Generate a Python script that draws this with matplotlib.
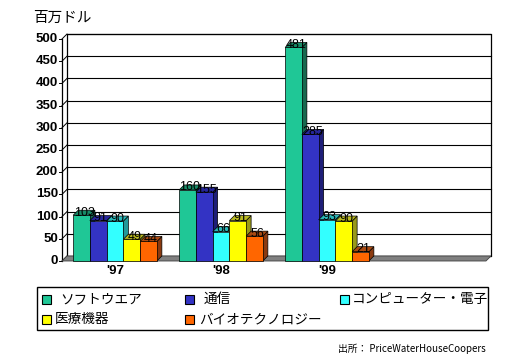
import matplotlib
matplotlib.use("Agg")
import matplotlib.pyplot as plt
from matplotlib.patches import Polygon, Rectangle

plt.rcParams['font.family'] = ['Noto Sans CJK JP', 'DejaVu Sans']

categories = ["'97", "'98", "'99", ""]
series_names = ["ソフトウエア", "通信", "コンピューター・電子", "医療機器", "バイオテクノロジー"]
software = [103, 160, 481]
telecom = [91, 155, 285]
computer = [90, 66, 93]
medical = [49, 91, 90]
biotech = [44, 56, 21]
series = [software, telecom, computer, medical, biotech]
yticks = list(range(0, 501, 50))

front_colors = ["#1fc796", "#3333c4", "#33ffff", "#ffff00", "#ff6600"]
side_colors = ["#17694f", "#1e1e78", "#229999", "#999919", "#8b3a10"]
top_colors = ["#178a66", "#26269a", "#2bb8b8", "#b8b820", "#a84a12"]

W, H = 530, 360
fig = plt.figure(figsize=(W / 100, H / 100), dpi=100)
px_l, px_r, px_t, px_b = 62, 486, 39, 261
ax = fig.add_axes([px_l / W, 1 - px_b / H, (px_r - px_l) / W, (px_b - px_t) / H])
x0, x1 = -0.5, 3.5
ax.set_xlim(x0, x1)
ax.set_ylim(0, 500)
ax.axis('off')

ppx = (px_r - px_l) / (x1 - x0)
ppy = (px_b - px_t) / 500
dx = 5 / ppx
dy = 5 / ppy

# back wall
ax.add_patch(Rectangle((x0 + dx, dy), x1 - x0, 500, facecolor='white',
                       edgecolor='black', lw=0.9, zorder=1, clip_on=False))
for yv in yticks:
    ax.plot([x0 + dx, x1 + dx], [yv + dy, yv + dy], color='black', lw=0.8,
            zorder=1.1, clip_on=False)
    ax.plot([x0, x0 + dx], [yv, yv + dy], color='black', lw=0.7, zorder=1.1, clip_on=False)
    ax.plot([x0 - 2.5 / ppx, x0], [yv, yv], color='black', lw=0.7, zorder=1.1, clip_on=False)
    ax.text(x0 - 4 / ppx, yv, str(yv), ha='right', va='center', fontsize=9.5,
            fontweight='bold', family=['Liberation Sans', 'DejaVu Sans'])
ax.plot([x0, x0], [0, 500], color='black', lw=0.9, zorder=1.1, clip_on=False)
# floor
ax.add_patch(Polygon([(x0, 0), (x1, 0), (x1 + dx, dy), (x0 + dx, dy)], closed=True,
                     facecolor='#808080', edgecolor='#404040', lw=0.6, zorder=1.2,
                     clip_on=False))

w = 0.158
for j, vals in enumerate(series):
    for i, h in enumerate(vals):
        left = i - 2.5 * w + j * w
        z = 2 + j * 0.1
        ax.add_patch(Polygon([(left + w, 0), (left + w + dx, dy), (left + w + dx, h + dy), (left + w, h)],
                             closed=True, facecolor=side_colors[j], edgecolor='black', lw=0.5,
                             zorder=z, clip_on=False))
        ax.add_patch(Polygon([(left, h), (left + dx, h + dy), (left + w + dx, h + dy), (left + w, h)],
                             closed=True, facecolor=top_colors[j], edgecolor='black', lw=0.5,
                             zorder=z, clip_on=False))
        ax.add_patch(Rectangle((left, 0), w, h, facecolor=front_colors[j], edgecolor='black',
                               lw=0.5, zorder=z + 0.01, clip_on=False))
for j, vals in enumerate(series):
    for i, h in enumerate(vals):
        left = i - 2.5 * w + j * w
        ax.text(left + w / 2 + dx / 2, h + dy / 2, str(h), ha='center', va='center',
                fontsize=9, color='black', zorder=5,
                family=['Liberation Sans', 'DejaVu Sans'])

for i, c in enumerate(categories):
    ax.text(i, -10 / ppy, c, ha='center', va='center', fontsize=9.5, fontweight='bold',
            family=['Liberation Sans', 'DejaVu Sans'])

fig.text(33 / W, 1 - 18 / H, "百万ドル", ha='left', va='center', fontsize=10.5)

# legend box
fig.patches.append(Rectangle((37 / W, 1 - 330 / H), (488 - 37) / W, (330 - 287) / H,
                             transform=fig.transFigure, facecolor='white',
                             edgecolor='black', lw=1.0, figure=fig))
leg_sq = [(42, 299), (185, 299), (340, 299), (42, 319), (185, 319)]
leg_tx = [60, 204, 352, 55, 199]
for (lx, ly), tx, name, col in zip(leg_sq, leg_tx, series_names, front_colors):
    fig.patches.append(Rectangle((lx / W, 1 - (ly + 4.5) / H), 9 / W, 9 / H,
                                 transform=fig.transFigure, facecolor=col,
                                 edgecolor='black', lw=0.8, figure=fig))
    fig.text(tx / W, 1 - ly / H, name, ha='left', va='center', fontsize=9.8)

fig.text(486 / W, 1 - 349 / H, "出所： PriceWaterHouseCoopers", ha='right', va='center',
         fontsize=7)

fig.savefig("out.png", dpi=100)
